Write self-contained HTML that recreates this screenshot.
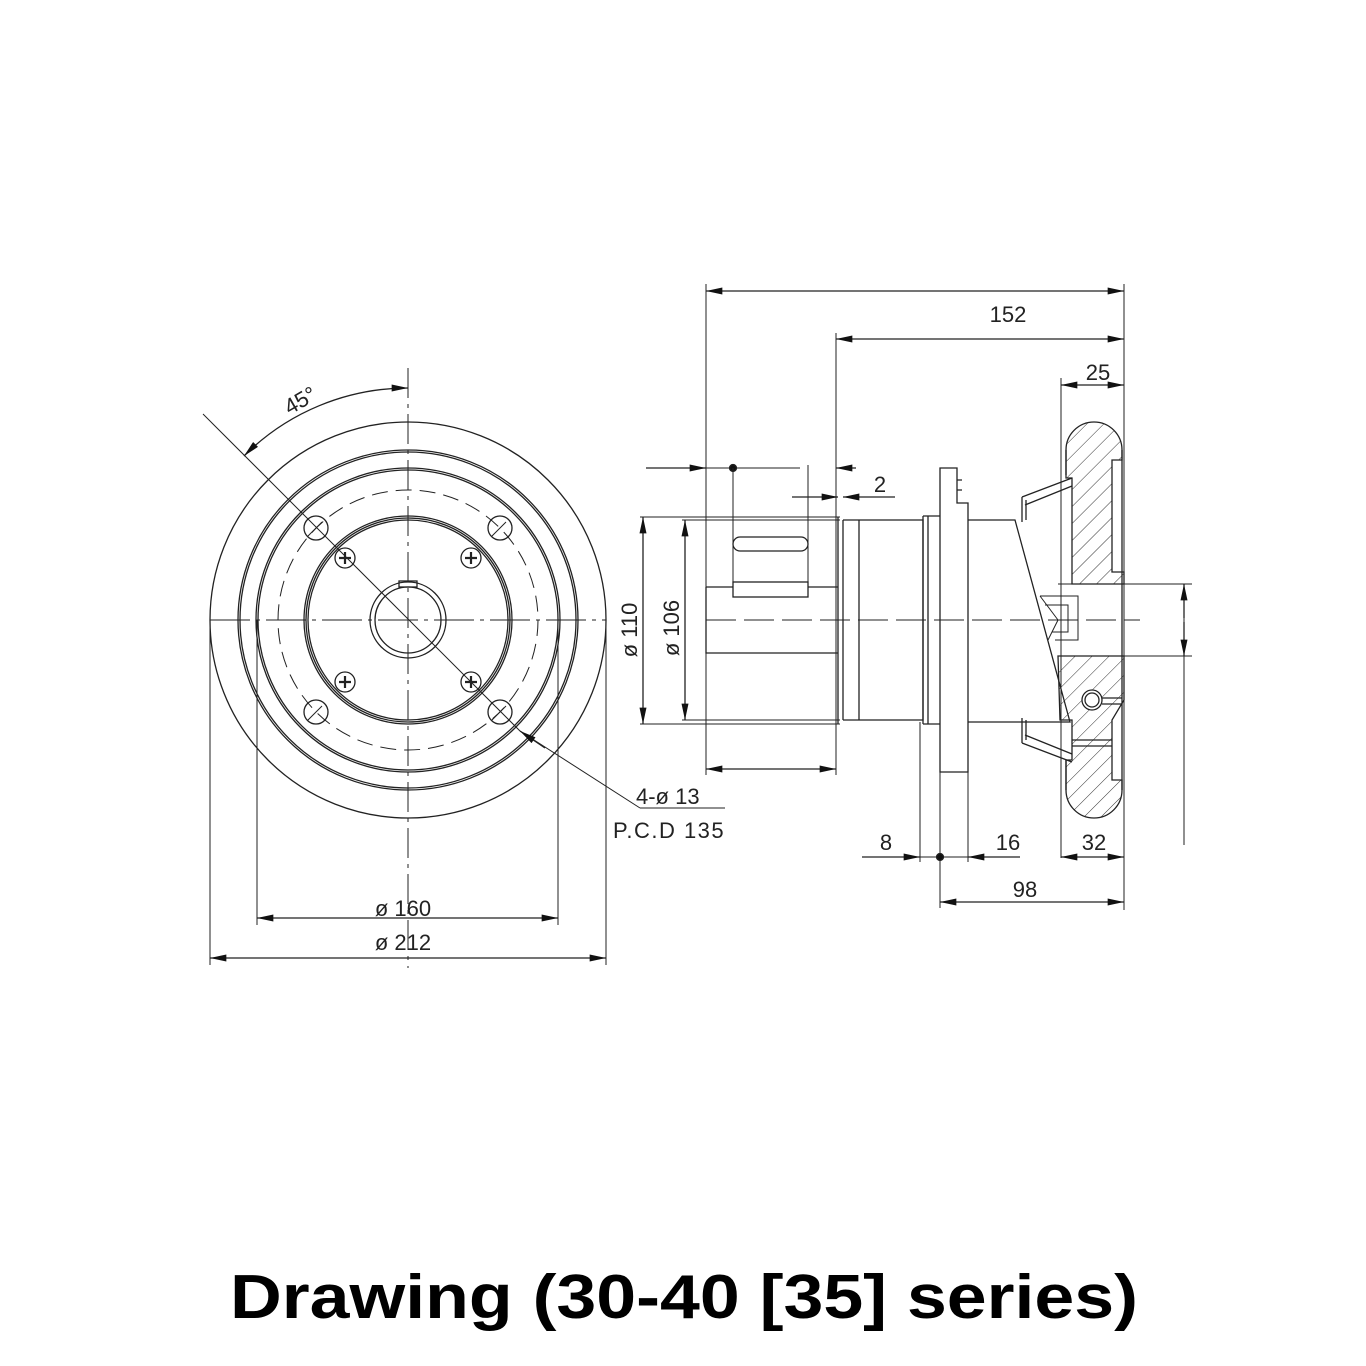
<!DOCTYPE html>
<html><head><meta charset="utf-8"><style>
html,body{margin:0;padding:0;background:#fff;}
svg{display:block;}
text{font-family:"Liberation Sans","DejaVu Sans",sans-serif;fill:#222;}
</style></head><body>
<svg width="1366" height="1366" viewBox="0 0 1366 1366" xmlns="http://www.w3.org/2000/svg">
<defs>
<marker id="a" viewBox="0 0 14 6" refX="14" refY="3" markerWidth="20" markerHeight="7" markerUnits="userSpaceOnUse" orient="auto-start-reverse"><path d="M0,0 L14,3 L0,6Z" fill="#111"/></marker>
<pattern id="h" width="12" height="12" patternUnits="userSpaceOnUse" patternTransform="rotate(45)"><line x1="0" y1="0" x2="0" y2="12" stroke="#333" stroke-width="1"/></pattern>
</defs>
<g fill="none" stroke="#222" stroke-width="1.3">
<!-- LEFT VIEW -->
<circle cx="408" cy="620" r="198"/>
<circle cx="408" cy="620" r="170"/><circle cx="408" cy="620" r="168"/>
<circle cx="408" cy="620" r="152"/><circle cx="408" cy="620" r="150"/>
<circle cx="408" cy="620" r="130" stroke-dasharray="16 8" stroke-width="1"/>
<circle cx="408" cy="620" r="104"/><circle cx="408" cy="620" r="102"/><circle cx="408" cy="620" r="100"/>
<circle cx="408" cy="620" r="38"/><circle cx="408" cy="620" r="33"/>
<rect x="399" y="581" width="18" height="6"/>
<g>
<circle cx="316" cy="528" r="12"/><circle cx="500" cy="528" r="12"/>
<circle cx="316" cy="712" r="12"/><circle cx="500" cy="712" r="12"/>
<circle cx="345" cy="558" r="10"/><circle cx="471" cy="558" r="10"/>
<circle cx="345" cy="682" r="10"/><circle cx="471" cy="682" r="10"/>
</g>
<g stroke-width="2.2">
<path d="M339,558h12M345,552v12M465,558h12M471,552v12M339,682h12M345,676v12M465,682h12M471,676v12"/>
</g>
<path d="M308,536l14-14M492,536l14-14M308,720l14-14M492,720l14-14" stroke-width="1"/>
<line x1="408" y1="368" x2="408" y2="968" stroke-dasharray="30 6 4 6" stroke-width="1"/>
<line x1="210" y1="620" x2="606" y2="620" stroke-dasharray="40 6 4 6" stroke-width="1"/>
<line x1="203" y1="414" x2="520" y2="731" stroke-width="1"/>
<line x1="520" y1="731" x2="640" y2="808" stroke-width="1"/>
<line x1="640" y1="808" x2="725" y2="808" stroke-width="1"/>
<line x1="545" y1="748" x2="520" y2="731" marker-end="url(#a)"/>
<path d="M408,388 A232,232 0 0 0 244,456" marker-start="url(#a)" marker-end="url(#a)"/>
<line x1="210" y1="620" x2="210" y2="965" stroke-width="1"/>
<line x1="606" y1="620" x2="606" y2="965" stroke-width="1"/>
<line x1="257" y1="620" x2="257" y2="925" stroke-width="1"/>
<line x1="558" y1="620" x2="558" y2="925" stroke-width="1"/>
<line x1="257" y1="918" x2="558" y2="918" marker-start="url(#a)" marker-end="url(#a)"/>
<line x1="210" y1="958" x2="606" y2="958" marker-start="url(#a)" marker-end="url(#a)"/>

<!-- RIGHT VIEW dims -->
<line x1="706" y1="291" x2="1124" y2="291" marker-start="url(#a)" marker-end="url(#a)"/>
<line x1="836" y1="339" x2="1124" y2="339" marker-start="url(#a)" marker-end="url(#a)"/>
<line x1="706" y1="284" x2="706" y2="775" stroke-width="1"/>
<line x1="836" y1="333" x2="836" y2="775" stroke-width="1"/>
<line x1="1124" y1="284" x2="1124" y2="910" stroke-width="1"/>
<line x1="1061" y1="378" x2="1061" y2="858" stroke-width="1"/>
<line x1="1061" y1="385" x2="1124" y2="385" marker-start="url(#a)" marker-end="url(#a)"/>
<line x1="646" y1="468" x2="706" y2="468" marker-end="url(#a)"/>
<line x1="706" y1="468" x2="800" y2="468" stroke-width="1"/>
<line x1="856" y1="468" x2="836" y2="468" marker-end="url(#a)"/>
<circle cx="733" cy="468" r="3.5" fill="#111"/>
<line x1="733" y1="468" x2="733" y2="583" stroke-width="1"/>
<line x1="808" y1="465" x2="808" y2="583" stroke-width="1"/>
<line x1="792" y1="497" x2="838" y2="497" marker-end="url(#a)"/>
<line x1="895" y1="497" x2="843" y2="497" marker-end="url(#a)"/>
<line x1="640" y1="517" x2="840" y2="517" stroke-width="1"/>
<line x1="640" y1="724" x2="840" y2="724" stroke-width="1"/>
<line x1="643" y1="517" x2="643" y2="724" marker-start="url(#a)" marker-end="url(#a)"/>
<line x1="682" y1="520" x2="840" y2="520" stroke-width="1"/>
<line x1="682" y1="720" x2="840" y2="720" stroke-width="1"/>
<line x1="685" y1="520" x2="685" y2="720" marker-start="url(#a)" marker-end="url(#a)"/>
<line x1="706" y1="769" x2="836" y2="769" marker-start="url(#a)" marker-end="url(#a)"/>

<!-- shaft -->
<path d="M706,587 H733 M808,587 H838 M706,587 V653 H838"/>
<rect x="733" y="582" width="75" height="15"/>
<rect x="733" y="537" width="75" height="14" rx="7"/>
<line x1="838" y1="517" x2="838" y2="724"/>
<line x1="843" y1="520" x2="843" y2="720"/>
<line x1="859" y1="520" x2="859" y2="720"/>
<path d="M843,520 H923 V720 H843"/>
<path d="M923,516 H940 M923,724 H940 M923,516 V724 M928,516 V724"/>
<path d="M940,468 H957 V503 H968 V772 H940 Z"/>
<path d="M957,480 h5 M957,490 h5"/>
<path d="M968,520 H1015 L1070,722 H968"/>
<!-- hatched wheel -->
<path d="M1072,584 L1072,478 L1066,478 L1066,450 A28,28 0 0 1 1122,450 L1122,460 L1112,460 L1112,572 L1124,572 L1124,584 Z" fill="url(#h)"/>
<path d="M1058,656 L1124,656 L1124,700 L1112,720 L1112,780 L1122,780 L1122,790 A28,28 0 0 1 1066,790 L1066,760 L1072,760 L1072,720 L1060,720 Z" fill="url(#h)"/>
<path d="M1066,450 V475 M1122,450 V790 M1066,760 V790"/>
<circle cx="1092" cy="700" r="10" fill="#fff"/><circle cx="1092" cy="700" r="7"/>
<path d="M1102,698 h20 M1102,704 h20"/>
<line x1="1072" y1="740" x2="1112" y2="740"/><line x1="1072" y1="746" x2="1112" y2="746"/>
<!-- spokes cones -->
<path d="M1022,497 L1072,478 M1025,505 L1072,486 M1022,497 V522 M1026,500 V520"/>
<path d="M1022,743 L1072,762 M1025,735 L1072,754 M1022,743 V718 M1026,740 V720"/>
<!-- hub inner -->
<path d="M1040,596 H1078 V640 H1055 M1045,605 H1068 V632 H1052" stroke-width="1"/>
<path d="M1040,596 L1058,620 L1048,640" stroke-width="1"/>
<line x1="1058" y1="584" x2="1124" y2="584" stroke-width="1"/>
<!-- right dims -->
<line x1="1124" y1="584" x2="1192" y2="584" stroke-width="1"/>
<line x1="1124" y1="656" x2="1192" y2="656" stroke-width="1"/>
<line x1="1184" y1="584" x2="1184" y2="845" stroke-width="1"/>
<line x1="1184" y1="618" x2="1184" y2="584" marker-end="url(#a)"/>
<line x1="1184" y1="622" x2="1184" y2="656" marker-end="url(#a)"/>
<line x1="706" y1="620" x2="1140" y2="620" stroke-dasharray="30 8" stroke-width="1"/>
<!-- bottom dims -->
<line x1="920" y1="722" x2="920" y2="862" stroke-width="1"/>
<line x1="940" y1="772" x2="940" y2="908" stroke-width="1"/>
<line x1="968" y1="772" x2="968" y2="862" stroke-width="1"/>
<line x1="862" y1="857" x2="920" y2="857" marker-end="url(#a)"/>
<line x1="920" y1="857" x2="968" y2="857" stroke-width="1"/>
<line x1="1020" y1="857" x2="968" y2="857" marker-end="url(#a)"/>
<circle cx="940" cy="857" r="3.5" fill="#111"/>
<line x1="1061" y1="857" x2="1124" y2="857" marker-start="url(#a)" marker-end="url(#a)"/>
<line x1="940" y1="902" x2="1124" y2="902" marker-start="url(#a)" marker-end="url(#a)"/>
</g>
<g font-size="22">
<text x="403" y="916" text-anchor="middle">ø 160</text>
<text x="403" y="950" text-anchor="middle">ø 212</text>
<text x="300" y="408" transform="rotate(-30 300 400)" text-anchor="middle">45°</text>
<text x="636" y="804">4-ø  13</text>
<text x="613" y="838" letter-spacing="1.5">P.C.D  135</text>
<text x="1008" y="322" text-anchor="middle">152</text>
<text x="1098" y="380" text-anchor="middle">25</text>
<text x="880" y="492" text-anchor="middle">2</text>
<text x="637" y="630" transform="rotate(-90 637 630)" text-anchor="middle">ø 110</text>
<text x="679" y="628" transform="rotate(-90 679 628)" text-anchor="middle">ø 106</text>
<text x="886" y="850" text-anchor="middle">8</text>
<text x="1008" y="850" text-anchor="middle">16</text>
<text x="1094" y="850" text-anchor="middle">32</text>
<text x="1025" y="897" text-anchor="middle">98</text>
</g>
<text x="684" y="1318" text-anchor="middle" font-size="62" font-weight="bold" textLength="908" lengthAdjust="spacingAndGlyphs" style="fill:#000">Drawing (30-40 [35] series)</text>
</svg>
</body></html>
